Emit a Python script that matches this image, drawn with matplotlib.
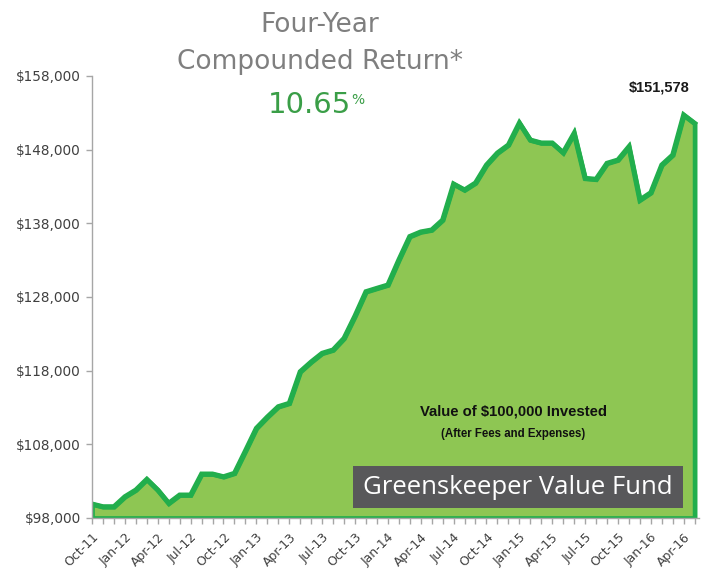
import matplotlib
matplotlib.use("Agg")
import matplotlib.pyplot as plt
from matplotlib.patches import Rectangle

# ---- data ----
values = [99900, 99530, 99530, 100890, 101800, 103250, 101800, 100000, 101120, 101120,
          103970, 103970, 103600, 104070, 107100, 110180, 111710, 113110, 113570, 117860,
          119180, 120360, 120810, 122390, 125420, 128720, 129180, 129630, 133020, 136210,
          136830, 137100, 138450, 143340, 142530, 143480, 145920, 147550, 148640, 151620,
          149310, 148910, 148910, 147590, 150220, 144110, 143980, 146150, 146600, 148400,
          141170, 142160, 145920, 147280, 152710, 151578]
tick_labels = ["Oct-11", "Jan-12", "Apr-12", "Jul-12", "Oct-12", "Jan-13", "Apr-13",
               "Jul-13", "Oct-13", "Jan-14", "Apr-14", "Jul-14", "Oct-14", "Jan-15",
               "Apr-15", "Jul-15", "Oct-15", "Jan-16", "Apr-16"]
y_ticks = [98000, 108000, 118000, 128000, 138000, 148000, 158000]
final_label = "$151,578"
title_lines = ["Four-Year", "Compounded Return*"]
return_value = "10.65"

W, H = 707, 571
fig = plt.figure(figsize=(W / 100, H / 100), dpi=100)

def fx(px):
    return px / W

def fy(py):
    return 1 - py / H

ax = fig.add_axes([fx(92), fy(518), fx(699) - fx(92), fy(76) - fy(518)])

x = list(range(len(values)))
line_c = "#22AE4C"
fill_c = "#8EC653"
ax.fill_between(x, values, y_ticks[0], facecolor=fill_c, edgecolor=line_c,
                linewidth=3.4, joinstyle="miter", zorder=2)
ax.plot(x, values, color=line_c, linewidth=3.6, solid_joinstyle="miter", zorder=3)

ax.set_xlim(0, len(values) - 1 + 0.4)
ax.set_ylim(y_ticks[0], y_ticks[-1])

axis_c = "#A6A6A6"
for s in ["top", "right"]:
    ax.spines[s].set_visible(False)
for s in ["left", "bottom"]:
    ax.spines[s].set_color(axis_c)
    ax.spines[s].set_linewidth(1.0)
    ax.spines[s].set_zorder(5)

ax.set_yticks(y_ticks)
ax.set_yticklabels([f"${v:,.0f}" for v in y_ticks], fontsize=9.8, color="#404040",
                   family="DejaVu Sans")
ax.tick_params(axis="y", direction="out", length=4, width=1, color=axis_c, pad=4)

ax.set_xticks(list(range(0, len(values), 3)))
ax.set_xticks(list(range(len(values))), minor=True)
ax.set_xticklabels(tick_labels, rotation=45, ha="right", rotation_mode="anchor",
                   fontsize=9, color="#404040", family="DejaVu Sans")
ax.tick_params(axis="x", which="both", direction="out", length=4, width=1,
               color=axis_c, pad=5)

# title
title_c = "#7F7F7F"
fig.text(fx(320), fy(32), title_lines[0], ha="center", va="baseline", fontsize=19,
         color=title_c, family="DejaVu Sans")
fig.text(fx(320), fy(69), title_lines[1], ha="center", va="baseline", fontsize=19,
         color=title_c, family="DejaVu Sans")
green_t = "#3A9E47"
fig.text(fx(351), fy(113), return_value, ha="right", va="baseline", fontsize=21,
         color=green_t, family="DejaVu Sans")
fig.text(fx(351), fy(104), "%", ha="left", va="baseline", fontsize=10,
         color=green_t, family="DejaVu Sans")

# final value label
fig.text(fx(659), fy(92), final_label, ha="center", va="baseline", fontsize=10.5,
         fontweight="bold", color="#1A1A1A", family="Liberation Sans")

# inner labels
fig.text(fx(513), fy(415), "Value of $100,000 Invested", ha="center", va="baseline",
         fontsize=10.7, fontweight="bold", color="#111111", family="Liberation Sans")
fig.text(fx(513), fy(437), "(After Fees and Expenses)", ha="center", va="baseline",
         fontsize=8.3, fontweight="bold", color="#111111", family="Liberation Sans")

# logo box
fig.patches.append(Rectangle((fx(353), fy(508)), fx(683) - fx(353), fy(466) - fy(508),
                             transform=fig.transFigure, facecolor="#58585A",
                             edgecolor="none", zorder=6))
fig.text(fx(518), fy(488), "Greenskeeper Value Fund", ha="center", va="center",
         fontsize=18.5, color="white", family="Open Sans", zorder=7)

fig.savefig("out.png", dpi=100)
